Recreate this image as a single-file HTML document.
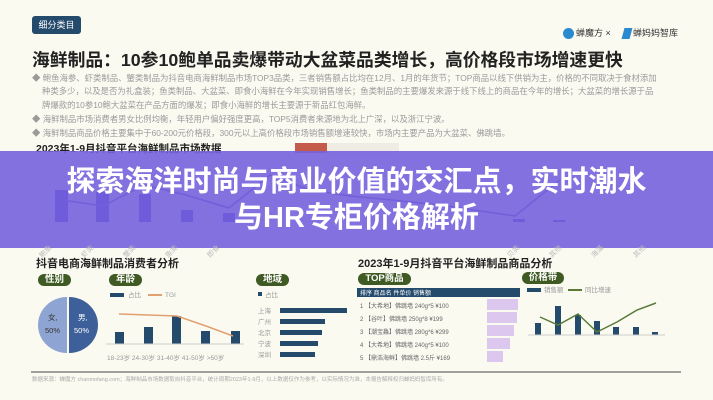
<!DOCTYPE html>
<html><head><meta charset="utf-8"><style>
*{margin:0;padding:0;box-sizing:border-box}
body{width:713px;height:400px;overflow:hidden;background:#fbfaf1;font-family:"Liberation Sans","Noto Sans CJK SC",sans-serif;position:relative}
.a{position:absolute;white-space:nowrap}
.g{color:#9a9a9a;font-size:8.4px;overflow:hidden;width:655px}
.pill{position:absolute;background:#3f5a22;color:#fff;font-size:9.5px;border-radius:7px;height:12px;line-height:12px;text-align:center;font-weight:bold}
</style></head><body>
<div class="a" style="left:32px;top:16px;width:49px;height:18px;background:#244a6c;border-radius:3px;color:#fff;font-size:9px;line-height:18px;text-align:center">细分类目</div>
<div class="a" style="left:563px;top:28px;width:11px;height:11px;border-radius:50%;background:#2a8ad0"></div>
<div class="a" style="left:576px;top:26px;font-size:9px;color:#333">蝉魔方 × </div>
<div class="a" style="left:623px;top:28px;width:8px;height:11px;background:#2a8ad0;transform:skewX(-15deg)"></div>
<div class="a" style="left:633px;top:26px;font-size:9px;color:#333">蝉妈妈智库</div>
<div class="a" style="left:32px;top:46px;font-size:17.8px;font-weight:bold;color:#222">海鲜制品：10参10鲍单品卖爆带动大盆菜品类增长，高价格段市场增速更快</div>
<div class="a g" style="left:32px;top:72px">◆ 鲍鱼海参、虾类制品、蟹类制品为抖音电商海鲜制品市场TOP3品类，三者销售额占比均在12月、1月的年货节；TOP商品以线下供销为主，价格的不同取决于食材添加</div>
<div class="a g" style="left:42px;top:85px">种类多少，以及是否为礼盒装；鱼类制品、大盆菜、即食小海鲜在今年实现销售增长；鱼类制品的主要爆发来源于线下线上的商品在今年的增长；大盆菜的增长源于品</div>
<div class="a g" style="left:42px;top:99px">牌爆款的10参10鲍大盆菜在产品方面的爆发；即食小海鲜的增长主要源于新品红包海鲜。</div>
<div class="a g" style="left:32px;top:113px">◆ 海鲜制品市场消费者男女比例均衡，年轻用户偏好强度更高，TOP5消费者来源地为北上广深，以及浙江宁波。</div>
<div class="a g" style="left:32px;top:127px">◆ 海鲜制品商品价格主要集中于60-200元价格段，300元以上高价格段市场销售额增速较快，市场内主要产品为大盆菜、佛跳墙。</div>
<div class="a" style="left:36px;top:141px;font-size:10.5px;font-weight:bold;color:#222">2023年1-9月抖音平台海鲜制品市场数据</div>
<div class="a" style="left:295px;top:143px;width:32px;height:10px;background:#c35a4a"></div>
<div class="a" style="left:327px;top:143px;width:72px;height:10px;background:#efece4"></div>
<svg class="a" style="left:0;top:150px" width="713" height="110">
<g fill="#2c2bb8"><rect x="55" y="40" width="13" height="32"/><rect x="96" y="42" width="13" height="30"/><rect x="139" y="44" width="12" height="28"/><rect x="181" y="60" width="12" height="12"/><rect x="223" y="63" width="12" height="9"/><rect x="513" y="69" width="12" height="3"/><rect x="553" y="70" width="12" height="2"/></g>
<polyline points="62,50 103,56 144,35 186,45 229,58 270,25 310,40 350,46 392,50 440,55 515,66 560,30" fill="none" stroke="#4a48b0" stroke-width="1.5"/>
</svg>
<div class="a" style="left:0;top:151px;width:713px;height:97px;background:rgba(118,98,222,0.9)"></div>
<div class="a" style="left:0;top:164px;width:713px;text-align:center;font-size:29px;font-weight:bold;color:#fff;line-height:36px">探索海洋时尚与商业价值的交汇点，实时潮水<br>与HR专柜价格解析</div>
<svg class="a" style="left:0;top:0" width="713" height="400">
<g font-size="7" fill="#bbb"><text x="42" y="258" transform="rotate(-45 42 258)">鲍鱼</text><text x="84" y="258" transform="rotate(-45 84 258)">虾类</text><text x="126" y="258" transform="rotate(-45 126 258)">蟹类</text><text x="168" y="258" transform="rotate(-45 168 258)">鱼类</text><text x="210" y="258" transform="rotate(-45 210 258)">即食</text><text x="510" y="258" transform="rotate(-45 510 258)">贝类</text><text x="552" y="258" transform="rotate(-45 552 258)">其他</text><text x="594" y="258" transform="rotate(-45 594 258)">海藻</text><text x="636" y="258" transform="rotate(-45 636 258)">其他</text></g>
</svg>
<div class="a" style="left:36px;top:255px;font-size:11px;font-weight:bold;color:#222">抖音电商海鲜制品消费者分析</div>
<div class="a" style="left:358px;top:255px;font-size:11px;font-weight:bold;color:#222">2023年1-9月抖音平台海鲜制品商品分析</div>
<div class="pill" style="left:38px;top:274px;width:33px">性别</div>
<div class="pill" style="left:109px;top:274px;width:33px">年龄</div>
<div class="pill" style="left:256px;top:274px;width:33px">地域</div>
<div class="pill" style="left:358px;top:273px;width:53px">TOP商品</div>
<div class="pill" style="left:522px;top:272px;width:42px">价格带</div>
<svg class="a" style="left:0;top:0" width="713" height="400">
<path d="M67,297 A29,28 0 0 0 67,353 Z" fill="#8ea4d2"/><path d="M69,297 A29,28 0 0 1 69,353 Z" fill="#3d5f9a"/>
<text x="48" y="320" font-size="7.5" fill="#333">女,</text><text x="45" y="333" font-size="7.5" fill="#333">50%</text>
<text x="78" y="320" font-size="7.5" fill="#fff">男,</text><text x="74" y="333" font-size="7.5" fill="#fff">50%</text>
<rect x="110" y="293" width="14" height="4" fill="#244a6c"/><text x="128" y="297" font-size="6.5" fill="#999">占比</text>
<rect x="148" y="294" width="14" height="2" fill="#e0a070"/><text x="165" y="297" font-size="6.5" fill="#999">TGI</text>
<g fill="#244a6c"><rect x="115" y="332" width="9" height="12"/><rect x="144" y="327" width="9" height="17"/><rect x="172" y="316" width="9" height="28"/><rect x="201" y="331" width="9" height="13"/><rect x="231" y="331" width="9" height="13"/></g>
<polyline points="119,314 148,315 177,316 206,326 233,336" fill="none" stroke="#e0a070" stroke-width="1.5"/>
<line x1="106" y1="344" x2="244" y2="344" stroke="#ccc"/>
<text x="107" y="360" font-size="6.5" fill="#999">18-23岁 24-30岁 31-40岁 41-50岁 &gt;50岁</text>
<rect x="258" y="292" width="4" height="4" fill="#244a6c"/><text x="265" y="297" font-size="6.5" fill="#999">占比</text>
<g fill="#244a6c"><rect x="280" y="308" width="67" height="5"/><rect x="280" y="319" width="45" height="5"/><rect x="280" y="330" width="42" height="5"/><rect x="280" y="341" width="38" height="5"/><rect x="280" y="352" width="35" height="5"/></g>
<g font-size="6.5" fill="#999"><text x="258" y="313">上海</text><text x="258" y="324">广州</text><text x="258" y="335">北京</text><text x="258" y="346">宁波</text><text x="258" y="357">深圳</text></g>
<rect x="357" y="288" width="163" height="9" fill="#244a6c"/>
<text x="360" y="295" font-size="6" fill="#fff">排序        商品名               件单价  销售额</text>
<g fill="#dcc8ee"><rect x="487" y="299" width="31" height="11"/><rect x="487" y="312" width="30" height="11"/><rect x="487" y="325" width="27" height="11"/><rect x="487" y="338" width="23" height="11"/><rect x="487" y="351" width="16" height="11"/></g>
<g font-size="6" fill="#666"><text x="360" y="308">1   【大希地】佛跳墙 240g*5          ¥100</text><text x="360" y="321">2   【谷叶】佛跳墙 250g*8            ¥199</text><text x="360" y="334">3   【潮宝鱻】佛跳墙 280g*6          ¥299</text><text x="360" y="347">4   【大希地】佛跳墙 240g*5          ¥100</text><text x="360" y="360">5   【鼎浩海鲜】佛跳墙 2.5斤        ¥169</text></g>
<rect x="527" y="288" width="14" height="4" fill="#244a6c"/><text x="544" y="292" font-size="6.5" fill="#999">销售额</text>
<rect x="568" y="289" width="14" height="2" fill="#5a7a3a"/><text x="585" y="292" font-size="6.5" fill="#999">同比增速</text>
<g fill="#244a6c"><rect x="535" y="323" width="6" height="12"/><rect x="555" y="306" width="6" height="29"/><rect x="575" y="315" width="6" height="20"/><rect x="594" y="321" width="6" height="14"/><rect x="613" y="327" width="6" height="8"/><rect x="633" y="327" width="6" height="8"/><rect x="652" y="332" width="6" height="3"/></g>
<polyline points="540,317 558,325 578,314 597,332 617,322 637,310 656,303" fill="none" stroke="#5a7a3a" stroke-width="1.5"/>
<line x1="528" y1="335" x2="665" y2="335" stroke="#ccc"/>
<line x1="31" y1="372" x2="681" y2="372" stroke="#444"/>
<text x="32" y="381" font-size="5.5" fill="#aaa">数据来源：蝉魔方 chanmofang.com；海鲜制品市场数据取自抖音平台，统计周期2023年1-9月，以上数据仅作为参考，以实际情况为准，本报告解释权归蝉妈妈智库所有。</text>
</svg>
</body></html>
